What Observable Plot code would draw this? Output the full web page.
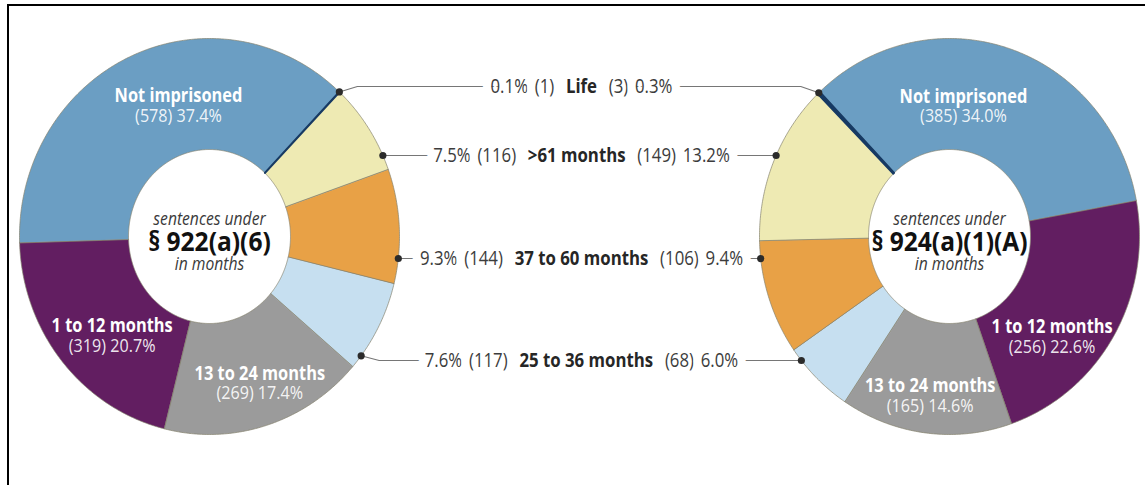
<!DOCTYPE html>
<html>
<head>
<meta charset="utf-8">
<script src="https://cdn.jsdelivr.net/npm/d3@7"></script>
<script src="https://cdn.jsdelivr.net/npm/@observablehq/plot@0.6"></script>
<style>
  html, body { margin: 0; padding: 0; background: #fff; }
  #wrap { position: relative; width: 1145px; height: 485px; overflow: hidden; }
  #frame { position: absolute; left: 6.5px; top: 4px; right: -10px; bottom: -10px;
           border-top: 2.5px solid #000; border-left: 2px solid #000; pointer-events: none; }
  svg text { font-family: "Open Sans", "Noto Sans", sans-serif; }
</style>
</head>
<body>
<div id="wrap"><div id="chart"></div><div id="frame"></div></div>
<script>
// ---------------- data ----------------
const categories = ["Life", ">61 months", "37 to 60 months", "25 to 36 months", "13 to 24 months", "1 to 12 months", "Not imprisoned"];
const counts922 = [1, 116, 144, 117, 269, 319, 578];
const pct922    = [0.1, 7.5, 9.3, 7.6, 17.4, 20.7, 37.4];
const counts924 = [3, 149, 106, 68, 165, 256, 385];
const pct924    = [0.3, 13.2, 9.4, 6.0, 14.6, 22.6, 34.0];
const sections  = ["§ 922(a)(6)", "§ 924(a)(1)(A)"];
const centerTop = "sentences under";
const centerBottom = "in months";

// ---------------- styles / layout ----------------
const colors = ["#173a63", "#eeeab3", "#e8a146", "#c6dff0", "#9b9b9b", "#621e61", "#6b9ec3"];
const W = 1145, H = 485;
const CY = 236, RX = 190, RY = 198, IRX = 81, IRY = 87;
const START = 43;                 // degrees from 12 o'clock where "Life" begins
// horizontal condensing per text mark, in mark order
const SQUEEZE = [0.84, 0.82, 0.85, 0.87, 0.91, 0.87];
const donuts = [
  {id: 0, cx: 209, dir: 1,  counts: counts922, pcts: pct922, section: sections[0]},
  {id: 1, cx: 949, dir: -1, counts: counts924, pcts: pct924, section: sections[1]}
];
const rowY = {"Life": 86, ">61 months": 155, "37 to 60 months": 258, "25 to 36 months": 360};
const inside = ["Not imprisoned", "1 to 12 months", "13 to 24 months"];
const labelNudge = [
  {"Not imprisoned": [27, 3], "1 to 12 months": [12, 7], "13 to 24 months": [8, 7]},
  {"Not imprisoned": [-30, 9], "1 to 12 months": [-19, 27], "13 to 24 months": [-2, 14]}
];
const rad = a => a * Math.PI / 180;
const pt = (d, a, rx, ry) => [d.cx + d.dir * rx * Math.sin(rad(a)), CY - ry * Math.cos(rad(a))];

// ---------------- derived geometry from the data ----------------
const slices = [];
donuts.forEach(d => {
  const total = d3.sum(d.counts);
  let cum = 0;
  d.counts.forEach((c, i) => {
    const a0 = START + cum / total * 360;
    cum += c;
    const a1 = START + cum / total * 360;
    slices.push({donut: d, cat: categories[i], i, a0, a1, count: c, pct: d.pcts[i]});
  });
});

const slicePts = [];
slices.forEach(s => {
  const n = Math.max(2, Math.ceil((s.a1 - s.a0) / 0.5));
  const key = s.donut.id + "-" + s.cat;
  for (let k = 0; k <= n; k++) {
    const a = s.a0 + (s.a1 - s.a0) * k / n;
    const [x, y] = pt(s.donut, a, RX, RY);
    slicePts.push({key, cat: s.cat, x, y});
  }
  for (let k = n; k >= 0; k--) {
    const a = s.a0 + (s.a1 - s.a0) * k / n;
    const [x, y] = pt(s.donut, a, IRX, IRY);
    slicePts.push({key, cat: s.cat, x, y});
  }
});

// leader dots + lines
const dotPts = [], leaderPts = [];
Object.keys(rowY).forEach(cat => {
  const ry = rowY[cat];
  const ends = donuts.map(d => {
    const s = slices.find(q => q.donut === d && q.cat === cat);
    let a;
    if (cat === "Life") a = (s.a0 + s.a1) / 2;
    else {
      const c = (CY - ry) / RY;
      a = Math.acos(Math.max(-1, Math.min(1, c))) * 180 / Math.PI;
      const span = s.a1 - s.a0;
      a = Math.max(s.a0 + 0.15 * span, Math.min(s.a1 - 0.15 * span, a));
    }
    const [x, y] = pt(d, a, RX, RY);
    return {d, x, y};
  });
  const [L, R] = ends;
  dotPts.push({x: L.x, y: L.y}, {x: R.x, y: R.y});
  const line = [[L.x, L.y]];
  if (Math.abs(L.y - ry) > 3) line.push([L.x + 18, ry]);
  if (Math.abs(R.y - ry) > 3) line.push([R.x - 18, ry]);
  line.push([R.x, R.y]);
  line.forEach(([x, y]) => leaderPts.push({cat, x, y}));
});

// row labels in the middle
const midX = (donuts[0].cx + donuts[1].cx) / 2 + 2;
const rows = Object.keys(rowY).map(cat => {
  const i = categories.indexOf(cat);
  return {
    cat, y: rowY[cat], x: midX,
    pL: pct922[i].toFixed(1) + "%", cL: "(" + counts922[i] + ")",
    cR: "(" + counts924[i] + ")", pR: pct924[i].toFixed(1) + "%"
  };
});
rows.forEach(r => r.full = [r.pL, r.cL, r.cat, r.cR, r.pR].join(" "));

// in-slice labels
const sliceLabels = [];
slices.filter(s => inside.includes(s.cat)).forEach(s => {
  const mid = (s.a0 + s.a1) / 2;
  const [x, y] = pt(s.donut, mid, RX * 0.74, RY * 0.74);
  const [nx, ny] = labelNudge[s.donut.id][s.cat];
  sliceLabels.push({x: x + nx, y: y + ny, title: s.cat, sub: "(" + s.count + ") " + s.pct.toFixed(1) + "%"});
});

const centers = donuts.map(d => ({x: d.cx, y: CY, section: d.section}));

// ---------------- plot ----------------
const svg = Plot.plot({
  width: W, height: H,
  margin: 0,
  x: {domain: [0, W], range: [0, W], axis: null},
  y: {domain: [0, H], range: [0, H], axis: null},
  color: {domain: categories, range: colors},
  style: {background: "transparent", overflow: "visible"},
  marks: [
    Plot.line(slicePts, {x: "x", y: "y", z: "key", fill: "cat", stroke: "#85836f", strokeWidth: 0.7, curve: "linear-closed"}),
    Plot.line(slicePts.filter(p => p.cat === "Life"), {x: "x", y: "y", z: "key", fill: "#173a63", stroke: "#173a63", strokeWidth: 1.6, curve: "linear-closed"}),
    Plot.line(leaderPts, {x: "x", y: "y", z: "cat", stroke: "#767676", strokeWidth: 1.1}),
    Plot.dot(dotPts, {x: "x", y: "y", r: 3.6, fill: "#2b2b2b"}),
    Plot.text(rows, {x: "x", y: "y", text: "full", fontSize: 20, fill: "#3c3c3c", stroke: "white", strokeWidth: 20, strokeLinejoin: "round"}),
    Plot.text(sliceLabels, {x: "x", y: "y", text: "title", dy: -10, fontSize: 20, fontWeight: "bold", fill: "white"}),
    Plot.text(sliceLabels, {x: "x", y: "y", text: "sub", dy: 10, fontSize: 19, fill: "white", fillOpacity: 0.9}),
    Plot.text(centers, {x: "x", y: "y", text: () => centerTop, dy: -17, fontSize: 18, fontStyle: "italic", fill: "#3a3a3a"}),
    Plot.text(centers, {x: "x", y: "y", text: "section", dy: 6, fontSize: 27, fontWeight: "bold", fill: "#111"}),
    Plot.text(centers, {x: "x", y: "y", text: () => centerBottom, dy: 28, fontSize: 18, fontStyle: "italic", fill: "#3a3a3a"})
  ]
});
document.getElementById("chart").appendChild(svg);

const textGroups = d3.select(svg).selectAll("g[aria-label='text']").nodes();

// split each row label into normal / bold pieces (first text mark = row labels)
d3.select(textGroups[0]).selectAll("text").each(function(_, j) {
  const r = rows[j];
  const t = d3.select(this);
  t.text(null);
  t.append("tspan").text(r.pL);
  t.append("tspan").attr("dx", 8).text(r.cL);
  t.append("tspan").attr("dx", 14).attr("font-weight", "bold").attr("fill", "#262626").text(r.cat);
  t.append("tspan").attr("dx", 14).text(r.cR);
  t.append("tspan").attr("dx", 8).text(r.pR);
});

// condense type horizontally around each text's anchor
textGroups.forEach((g, gi) => {
  const k = SQUEEZE[gi] ?? 0.85;
  d3.select(g).selectAll("text").each(function() {
    const x = +(this.getAttribute("x") || 0);
    const tr = this.getAttribute("transform") || "";
    this.setAttribute("transform", `${tr} translate(${x},0) scale(${k},1) translate(${-x},0)`);
  });
});
</script>
</body>
</html>
